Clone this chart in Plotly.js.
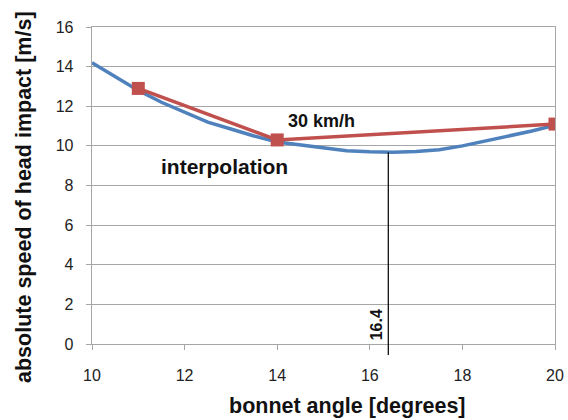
<!DOCTYPE html>
<html>
<head>
<meta charset="utf-8">
<script src="https://cdn.plot.ly/plotly-3.0.1.min.js"></script>
<style>html,body{margin:0;padding:0;background:#fff;}#chart{width:568px;height:420px;}</style>
</head>
<body>
<div id="chart"></div>
<script>
var interpAngle = [10, 10.5, 11, 11.5, 12, 12.5, 13, 13.5, 14, 14.5, 15, 15.5, 16, 16.5, 17, 17.5, 18, 18.5, 19, 19.5, 20];
var interpSpeed = [14.2, 13.5, 12.8, 12.2, 11.7, 11.2, 10.85, 10.5, 10.2, 10.05, 9.9, 9.75, 9.7, 9.68, 9.72, 9.8, 10.0, 10.25, 10.5, 10.75, 11.05];
var measAngle = [11, 14, 20];
var measSpeed = [12.9, 10.3, 11.1];
var minAngle = 16.4;
var minSpeed = 9.68;
var xTicks = [10, 12, 14, 16, 18, 20];
var yTicks = [0, 2, 4, 6, 8, 10, 12, 14, 16];
var xTitle = 'bonnet angle [degrees]';
var yTitle = 'absolute speed of head impact [m/s]';

var traces = [
  {x: interpAngle, y: interpSpeed, mode: 'lines', line: {color: '#4F81BD', width: 3.5}, hoverinfo: 'skip', showlegend: false},
  {x: measAngle, y: measSpeed, mode: 'lines+markers', line: {color: '#C0504D', width: 3.5},
   marker: {symbol: 'square', size: 13, color: '#C0504D'}, showlegend: false}
];

var mL = 92, mR = 13, mT = 27, mB = 76, W = 568, H = 420;
var plotW = W - mL - mR, plotH = H - mT - mB;
var lineBottom = -11 / plotH;
var lineTop = minSpeed / 16;

var layout = {
  width: W, height: H,
  margin: {l: mL, r: mR, t: mT, b: mB},
  paper_bgcolor: '#fff', plot_bgcolor: '#fff',
  showlegend: false,
  xaxis: {
    range: [10, 20], tickvals: xTicks, ticktext: xTicks.map(String),
    showgrid: false, zeroline: false, showline: true, mirror: true,
    linecolor: '#a6a6a6', linewidth: 1.3,
    ticks: 'outside', ticklen: 5, tickcolor: '#a6a6a6',
    ticklabelstandoff: 11,
    tickfont: {family: 'Liberation Sans, Arial', size: 16, color: '#222'}
  },
  yaxis: {
    range: [0, 16], tickvals: yTicks, ticktext: yTicks.map(String),
    showgrid: true, gridcolor: '#a6a6a6', gridwidth: 1.2, zeroline: false,
    showline: true, mirror: true, linecolor: '#a6a6a6', linewidth: 1.3,
    ticks: 'outside', ticklen: 5, tickcolor: '#a6a6a6',
    ticklabelstandoff: 9,
    tickfont: {family: 'Liberation Sans, Arial', size: 16, color: '#222'}
  },
  shapes: [
    {type: 'line', xref: 'x', yref: 'paper', x0: minAngle, x1: minAngle, y0: lineTop, y1: lineBottom,
     line: {color: '#111', width: 1.3}}
  ],
  annotations: [
    {x: 14.96, y: 11.26, xref: 'x', yref: 'y', text: '<b>30 km/h</b>', showarrow: false,
     font: {family: 'Liberation Sans, Arial', size: 18, color: '#111'}},
    {x: 12.87, y: 8.95, xref: 'x', yref: 'y', text: '<b>interpolation</b>', showarrow: false,
     font: {family: 'Liberation Sans, Arial', size: 21, color: '#111'}},
    {x: minAngle, y: 0.1, xref: 'x', yref: 'y', text: '<b>' + String(minAngle) + '</b>', showarrow: false, textangle: -90,
     xanchor: 'right', yanchor: 'bottom', xshift: -1,
     font: {family: 'Liberation Sans, Arial', size: 16, color: '#111'}},
    {x: (347 - mL) / plotW, y: -(406 - (H - mB)) / plotH, xref: 'paper', yref: 'paper',
     text: '<b>' + xTitle + '</b>', showarrow: false, xanchor: 'center', yanchor: 'middle',
     font: {family: 'Liberation Sans, Arial', size: 21.5, color: '#111'}},
    {x: -(mL - 24) / plotW, y: (H - mB - 197) / plotH, xref: 'paper', yref: 'paper',
     text: '<b>' + yTitle + '</b>', showarrow: false, textangle: -90, xanchor: 'center', yanchor: 'middle',
     font: {family: 'Liberation Sans, Arial', size: 21.5, color: '#111'}}
  ]
};

Plotly.newPlot('chart', traces, layout, {displayModeBar: false, staticPlot: true});
</script>
</body>
</html>
